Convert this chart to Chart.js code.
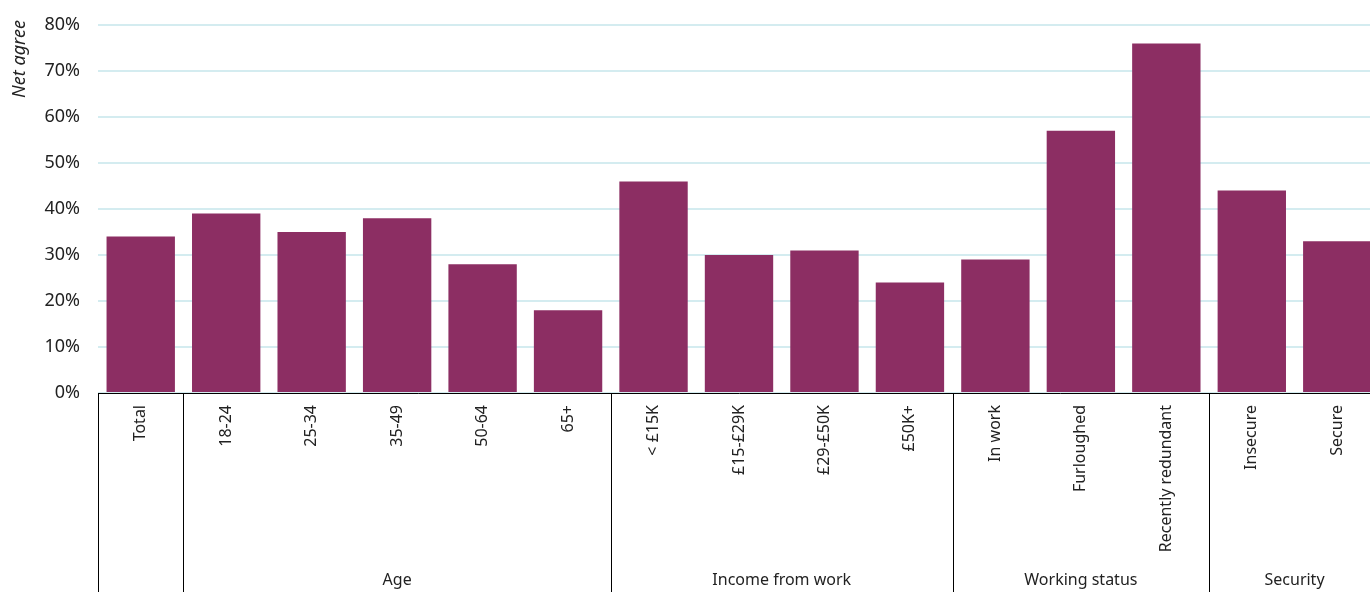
<!DOCTYPE html>
<html>
<head>
<meta charset="utf-8">
<script src="https://cdn.jsdelivr.net/npm/chart.js@4"></script>
<style>
  html, body { margin: 0; padding: 0; background: #fff; overflow: hidden; }
  #wrap { position: relative; width: 1380px; height: 592px; }
</style>
</head>
<body>
<div id="wrap"><canvas id="barChart"></canvas></div>
<script>
const categories = ['Total', '18-24', '25-34', '35-49', '50-64', '65+',
	'< £15K', '£15-£29K', '£29-£50K', '£50K+',
	'In work', 'Furloughed', 'Recently redundant', 'Insecure', 'Secure'];
const netAgree = [34, 39, 35, 38, 28, 18, 46, 30, 31, 24, 29, 57, 76, 44, 33];
const yTicks = [0, 10, 20, 30, 40, 50, 60, 70, 80];
// group name, first index, last index
const groupNames = ['', 'Age', 'Income from work', 'Working status', 'Security'];
const groupStart = [0, 1, 6, 10, 13];
const groupEnd = [0, 5, 9, 12, 14];

const FONT = '"Noto Sans", "Open Sans", sans-serif';
const TEXT = '#222';

const groupPlugin = {
	id: 'groups',
	afterDraw(chart) {
		const ctx = chart.ctx;
		const x = chart.scales.x;
		const area = chart.chartArea;
		const half = (x.getPixelForValue(1) - x.getPixelForValue(0)) / 2;
		const bottom = chart.height;
		ctx.save();
		ctx.strokeStyle = '#000';
		ctx.lineWidth = 1;
		groupStart.forEach((s, g) => {
			const left = Math.round(x.getPixelForValue(s) - half) + 0.5;
			ctx.beginPath();
			ctx.moveTo(left, area.bottom);
			ctx.lineTo(left, bottom);
			ctx.stroke();
			if (groupNames[g]) {
				const mid = (x.getPixelForValue(s) + x.getPixelForValue(groupEnd[g])) / 2;
				ctx.fillStyle = TEXT;
				ctx.font = '16px ' + FONT;
				ctx.textAlign = 'center';
				ctx.textBaseline = 'middle';
				ctx.fillText(groupNames[g], mid, 580);
			}
		});
		// axis title
		ctx.translate(20, 59);
		ctx.rotate(-Math.PI / 2);
		ctx.font = 'italic 18px ' + FONT;
		ctx.fillStyle = TEXT;
		ctx.textAlign = 'center';
		ctx.textBaseline = 'middle';
		ctx.fillText('Net agree', 0, 0);
		ctx.restore();
	}
};

new Chart(document.getElementById('barChart'), {
	type: 'bar',
	data: {
		labels: categories,
		datasets: [{
			label: 'Net agree',
			data: netAgree,
			backgroundColor: '#8c2e63',
			categoryPercentage: 1,
			barPercentage: 0.8
		}]
	},
	options: {
		responsive: true,
		maintainAspectRatio: false,
		animation: false,
		layout: { padding: { top: 25, right: 0 } },
		plugins: {
			legend: { display: false },
			tooltip: { enabled: false }
		},
		scales: {
			x: {
				grid: { display: false, drawTicks: false },
				border: { display: true, color: '#000', width: 1 },
				ticks: {
					color: TEXT,
					font: { family: FONT, size: 16 },
					minRotation: 90,
					maxRotation: 90,
					autoSkip: false,
					padding: 12
				},
				afterFit(scale) { scale.height = 199; }
			},
			y: {
				min: 0,
				max: 80,
				afterBuildTicks(scale) { scale.ticks = yTicks.map(v => ({ value: v })); },
				grid: { color: '#d4ecf0', lineWidth: 2, drawTicks: false },
				border: { display: false },
				ticks: {
					color: TEXT,
					font: { family: FONT, size: 18 },
					padding: 18,
					callback: v => v + '%'
				},
				afterFit(scale) {
					scale.width = 98;
					scale.paddingTop = 0;
					scale.paddingBottom = 0;
				}
			}
		}
	},
	plugins: [groupPlugin]
});
</script>
</body>
</html>
